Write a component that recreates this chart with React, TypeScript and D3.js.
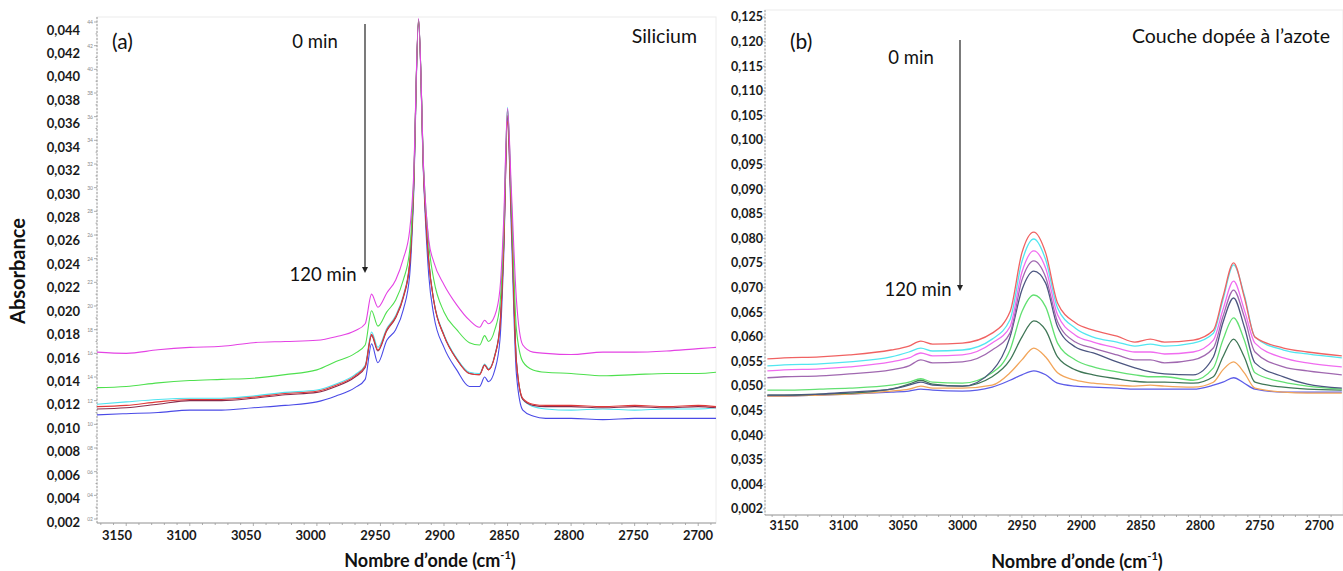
import React from 'react';
import * as d3 from 'd3';

const W = 1343;
const H = 571;
const FONT = "Lato, 'Open Sans', sans-serif";

// ---------- Panel (a) : Silicium ----------
const A_WAVENUMBERS = [3173, 3150, 3125, 3100, 3075, 3050, 3025, 3000, 2985, 2970, 2962, 2957, 2952, 2945, 2938, 2932, 2927, 2924, 2920, 2916, 2912, 2908, 2900, 2890, 2880, 2872, 2868, 2865, 2860, 2856, 2853, 2850, 2847, 2843, 2838, 2830, 2820, 2800, 2775, 2750, 2725, 2700, 2686];
const A_MAGENTA = [0.0161, 0.0160, 0.0163, 0.0165, 0.0166, 0.0169, 0.0170, 0.0171, 0.0174, 0.0179, 0.0185, 0.0210, 0.0199, 0.0211, 0.0222, 0.0240, 0.0264, 0.0307, 0.0443, 0.0315, 0.0256, 0.0237, 0.0218, 0.0201, 0.0188, 0.0182, 0.0188, 0.0185, 0.0192, 0.0214, 0.0273, 0.0367, 0.0298, 0.0205, 0.0167, 0.0161, 0.0160, 0.0159, 0.0161, 0.0161, 0.0162, 0.0164, 0.0165];
const A_GREEN = [0.0131, 0.0132, 0.0135, 0.0137, 0.0138, 0.0139, 0.0142, 0.0146, 0.0153, 0.0160, 0.0167, 0.0196, 0.0183, 0.0195, 0.0205, 0.0222, 0.0247, 0.0302, 0.0442, 0.0315, 0.0252, 0.0222, 0.0195, 0.0180, 0.0169, 0.0167, 0.0175, 0.0170, 0.0180, 0.0201, 0.0264, 0.0366, 0.0290, 0.0180, 0.0153, 0.0146, 0.0144, 0.0143, 0.0141, 0.0142, 0.0143, 0.0143, 0.0144];
const A_CYAN = [0.0117, 0.0119, 0.0121, 0.0122, 0.0122, 0.0124, 0.0127, 0.0129, 0.0134, 0.0142, 0.0150, 0.0178, 0.0165, 0.0181, 0.0192, 0.0209, 0.0237, 0.0298, 0.0442, 0.0313, 0.0239, 0.0205, 0.0176, 0.0156, 0.0144, 0.0143, 0.0151, 0.0147, 0.0159, 0.0184, 0.0256, 0.0368, 0.0281, 0.0154, 0.0121, 0.0115, 0.0113, 0.0112, 0.0113, 0.0112, 0.0113, 0.0113, 0.0114];
const A_RED = [0.0115, 0.0116, 0.0119, 0.0121, 0.0121, 0.0123, 0.0126, 0.0128, 0.0133, 0.0141, 0.0149, 0.0176, 0.0163, 0.0180, 0.0191, 0.0208, 0.0236, 0.0297, 0.0441, 0.0310, 0.0238, 0.0204, 0.0175, 0.0155, 0.0143, 0.0142, 0.0150, 0.0146, 0.0158, 0.0182, 0.0250, 0.0356, 0.0275, 0.0152, 0.0122, 0.0117, 0.0116, 0.0116, 0.0115, 0.0116, 0.0115, 0.0116, 0.0115];
const A_DARKRED = [0.0113, 0.0114, 0.0117, 0.0120, 0.0120, 0.0122, 0.0125, 0.0127, 0.0132, 0.0140, 0.0148, 0.0175, 0.0162, 0.0179, 0.0190, 0.0207, 0.0235, 0.0296, 0.0442, 0.0311, 0.0238, 0.0204, 0.0175, 0.0155, 0.0143, 0.0142, 0.0150, 0.0146, 0.0158, 0.0183, 0.0252, 0.0361, 0.0278, 0.0153, 0.0121, 0.0116, 0.0115, 0.0115, 0.0114, 0.0115, 0.0114, 0.0115, 0.0114];
const A_BLUE = [0.0108, 0.0109, 0.0110, 0.0112, 0.0112, 0.0114, 0.0116, 0.0119, 0.0124, 0.0131, 0.0138, 0.0168, 0.0152, 0.0171, 0.0180, 0.0197, 0.0226, 0.0290, 0.0440, 0.0307, 0.0226, 0.0192, 0.0165, 0.0146, 0.0132, 0.0132, 0.0140, 0.0136, 0.0146, 0.0171, 0.0243, 0.0359, 0.0264, 0.0142, 0.0112, 0.0107, 0.0105, 0.0105, 0.0104, 0.0105, 0.0105, 0.0105, 0.0105];
const A_SERIES = [
  { name: 'blue', color: '#4a4ae6', values: A_BLUE },
  { name: 'cyan', color: '#4fe3ef', values: A_CYAN },
  { name: 'darkred', color: '#8a2a4a', values: A_DARKRED },
  { name: 'red', color: '#e03a3a', values: A_RED },
  { name: 'green', color: '#4ee04e', values: A_GREEN },
  { name: 'magenta', color: '#e442e4', values: A_MAGENTA },
];
const A_Y_TICKS = [0.044, 0.042, 0.040, 0.038, 0.036, 0.034, 0.032, 0.030, 0.028, 0.026, 0.024, 0.022, 0.020, 0.018, 0.016, 0.014, 0.012, 0.010, 0.008, 0.006, 0.004, 0.002];
const A_Y_LABELS = ['0,044', '0,042', '0,040', '0,038', '0,036', '0,034', '0,032', '0,030', '0,028', '0,026', '0,024', '0,022', '0,020', '0,018', '0,016', '0,014', '0,012', '0,010', '0,008', '0,006', '0,004', '0,002'];
const A_Y_SMALL_LABELS = ['44', '42', '40', '38', '36', '34', '32', '30', '28', '26', '24', '22', '20', '18', '16', '14', '12', '10', '08', '06', '04', '02'];
const X_TICKS = [3150, 3100, 3050, 3000, 2950, 2900, 2850, 2800, 2750, 2700];
const X_LABELS = ['3150', '3100', '3050', '3000', '2950', '2900', '2850', '2800', '2750', '2700'];

// ---------- Panel (b) : Couche dopée à l'azote ----------
const B_WAVENUMBERS = [3164, 3150, 3120, 3095, 3060, 3045, 3035, 3025, 3000, 2975, 2960, 2950, 2940, 2930, 2920, 2905, 2890, 2870, 2855, 2842, 2830, 2806, 2789, 2781, 2772, 2763, 2754, 2730, 2710, 2681];
const B_RED = [0.0560, 0.0562, 0.0564, 0.0568, 0.0578, 0.0586, 0.0596, 0.0590, 0.0592, 0.0612, 0.0655, 0.0774, 0.0816, 0.0774, 0.0673, 0.0633, 0.0618, 0.0606, 0.0594, 0.0600, 0.0594, 0.0598, 0.0618, 0.0685, 0.0754, 0.0685, 0.0604, 0.0582, 0.0574, 0.0566];
const B_CYAN = [0.0546, 0.0548, 0.0550, 0.0554, 0.0564, 0.0574, 0.0582, 0.0576, 0.0578, 0.0600, 0.0639, 0.0756, 0.0802, 0.0760, 0.0663, 0.0622, 0.0604, 0.0594, 0.0586, 0.0590, 0.0586, 0.0592, 0.0612, 0.0679, 0.0750, 0.0689, 0.0604, 0.0578, 0.0570, 0.0562];
const B_MAGENTA = [0.0536, 0.0538, 0.0540, 0.0544, 0.0554, 0.0562, 0.0572, 0.0566, 0.0568, 0.0592, 0.0625, 0.0735, 0.0778, 0.0743, 0.0649, 0.0608, 0.0594, 0.0582, 0.0574, 0.0574, 0.0570, 0.0574, 0.0598, 0.0659, 0.0717, 0.0659, 0.0592, 0.0562, 0.0552, 0.0544];
const B_MAUVE = [0.0522, 0.0524, 0.0526, 0.0530, 0.0538, 0.0546, 0.0558, 0.0552, 0.0554, 0.0578, 0.0612, 0.0719, 0.0758, 0.0725, 0.0635, 0.0594, 0.0582, 0.0568, 0.0558, 0.0558, 0.0552, 0.0558, 0.0582, 0.0645, 0.0699, 0.0645, 0.0574, 0.0544, 0.0536, 0.0528];
const B_SLATE = [0.0487, 0.0487, 0.0489, 0.0493, 0.0499, 0.0507, 0.0513, 0.0507, 0.0505, 0.0536, 0.0604, 0.0699, 0.0737, 0.0713, 0.0625, 0.0584, 0.0572, 0.0554, 0.0542, 0.0534, 0.0530, 0.0528, 0.0564, 0.0633, 0.0683, 0.0625, 0.0552, 0.0524, 0.0509, 0.0501];
const B_GREEN = [0.0497, 0.0497, 0.0499, 0.0501, 0.0507, 0.0513, 0.0520, 0.0513, 0.0511, 0.0532, 0.0578, 0.0655, 0.0689, 0.0665, 0.0592, 0.0558, 0.0544, 0.0534, 0.0528, 0.0524, 0.0524, 0.0517, 0.0542, 0.0598, 0.0643, 0.0598, 0.0532, 0.0513, 0.0505, 0.0499];
const B_DARKGREEN = [0.0487, 0.0487, 0.0489, 0.0491, 0.0499, 0.0509, 0.0517, 0.0509, 0.0505, 0.0524, 0.0558, 0.0604, 0.0637, 0.0618, 0.0564, 0.0538, 0.0528, 0.0520, 0.0515, 0.0513, 0.0513, 0.0511, 0.0524, 0.0564, 0.0600, 0.0564, 0.0513, 0.0503, 0.0499, 0.0497];
const B_ORANGE = [0.0485, 0.0485, 0.0487, 0.0489, 0.0495, 0.0499, 0.0505, 0.0501, 0.0501, 0.0507, 0.0532, 0.0558, 0.0582, 0.0564, 0.0532, 0.0517, 0.0511, 0.0507, 0.0505, 0.0507, 0.0505, 0.0503, 0.0513, 0.0538, 0.0554, 0.0532, 0.0501, 0.0493, 0.0491, 0.0491];
const B_BLUE = [0.0485, 0.0485, 0.0487, 0.0489, 0.0493, 0.0495, 0.0499, 0.0497, 0.0495, 0.0503, 0.0517, 0.0528, 0.0536, 0.0528, 0.0511, 0.0505, 0.0503, 0.0501, 0.0499, 0.0499, 0.0499, 0.0499, 0.0507, 0.0513, 0.0522, 0.0511, 0.0499, 0.0493, 0.0493, 0.0493];
const B_SERIES = [
  { name: 'blue', color: '#5c5ce8', values: B_BLUE },
  { name: 'orange', color: '#f2a55a', values: B_ORANGE },
  { name: 'darkgreen', color: '#3f7656', values: B_DARKGREEN },
  { name: 'green', color: '#62e072', values: B_GREEN },
  { name: 'slate', color: '#4c5680', values: B_SLATE },
  { name: 'mauve', color: '#a068b0', values: B_MAUVE },
  { name: 'magenta', color: '#f06cf0', values: B_MAGENTA },
  { name: 'cyan', color: '#52e6f0', values: B_CYAN },
  { name: 'red', color: '#f06262', values: B_RED },
];
const B_Y_TICKS = [0.125, 0.120, 0.115, 0.110, 0.105, 0.100, 0.095, 0.090, 0.085, 0.080, 0.075, 0.070, 0.065, 0.060, 0.055, 0.050, 0.045, 0.040, 0.035, 0.030, 0.025];
const B_Y_LABELS = ['0,125', '0,120', '0,115', '0,110', '0,105', '0,100', '0,095', '0,090', '0,085', '0,080', '0,075', '0,070', '0,065', '0,060', '0,055', '0,050', '0,045', '0,040', '0,035', '0,004', '0,002'];

function XTitle({ x, y }: { x: number; y: number }) {
  return (
    <text x={x} y={y} textAnchor="middle" fontFamily={FONT} fontWeight={700} fontSize={18} fill="#111">
      Nombre d’onde (cm<tspan fontSize={11} dy={-8}>-1</tspan><tspan dy={8}>)</tspan>
    </text>
  );
}

function Arrow({ x, y1, y2 }: { x: number; y1: number; y2: number }) {
  return (
    <g>
      <line x1={x} x2={x} y1={y1} y2={y2 - 5} stroke="#222" strokeWidth={1.2} />
      <path d={`M${x - 3},${y2 - 6} L${x + 3},${y2 - 6} L${x},${y2} Z`} fill="#222" />
    </g>
  );
}

export default function App() {
  // Panel (a) scales
  const ax = d3.scaleLinear().domain([3173, 2686]).range([97, 716]);
  const ay = d3.scaleLinear().domain([0.044, 0.002]).range([22, 519]);
  const ayLabel = d3.scaleLinear().domain([0.044, 0.002]).range([30, 522]);
  const axLabel = d3.scaleLinear().domain([3150, 2700]).range([117, 698]);
  const aTop = 17, aBottom = 523, aLeft = 97, aRight = 716;

  // Panel (b) scales
  const bx = d3.scaleLinear().domain([3166, 2680]).range([765, 1343]);
  const by = d3.scaleLinear().domain([0.125, 0.035]).range([17, 463]);
  const byLabel = d3.scaleLinear().domain([0.125, 0.025]).range([17, 509]);
  const bTop = 10, bBottom = 515, bLeft = 765, bRight = 1343;

  const lineA = (vals: number[]) =>
    d3.line<number>().x((_, i) => ax(A_WAVENUMBERS[i])).y((v) => ay(v)).curve(d3.curveMonotoneX)(vals) || '';
  const lineB = (vals: number[]) =>
    d3.line<number>().x((_, i) => bx(B_WAVENUMBERS[i])).y((v) => by(v)).curve(d3.curveMonotoneX)(vals) || '';

  const aMinor = d3.range(2690, 3171, 10);
  const bMinor = d3.range(2690, 3161, 10);
  const aYMinor = d3.range(0.002, 0.0441, 0.001);

  return (
    <svg width={W} height={H} style={{ position: 'absolute', left: 0, top: 0, background: '#fff' }}>
      <rect x={0} y={0} width={W} height={H} fill="#fff" />
      {/* ---------- Panel (a) ---------- */}
      <defs>
        <clipPath id="clipA"><rect x={aLeft} y={aTop - 2} width={aRight - aLeft} height={aBottom - aTop + 2} /></clipPath>
        <clipPath id="clipB"><rect x={bLeft} y={bTop} width={bRight - bLeft} height={bBottom - bTop} /></clipPath>
      </defs>
      <rect x={aLeft} y={aTop} width={aRight - aLeft} height={aBottom - aTop} fill="none" stroke="#ececec" strokeWidth={1} />
      <line x1={aLeft} x2={aLeft} y1={aTop} y2={aBottom} stroke="#9a9a9a" strokeDasharray="2,1.5" />
      {aYMinor.map((v, i) => (
        <line key={'aym' + i} x1={aLeft - (i % 2 === 0 ? 3 : 1.5)} x2={aLeft} y1={ay(v)} y2={ay(v)} stroke="#9a9a9a" strokeWidth={0.8} />
      ))}
      {A_Y_TICKS.map((v, i) => (
        <text key={'ays' + i} x={aLeft - 4} y={ay(v) + 2} textAnchor="end" fontFamily={FONT} fontSize={5} fill="#8a8a8a">{A_Y_SMALL_LABELS[i]}</text>
      ))}
      <line x1={aLeft} x2={aRight} y1={aBottom} y2={aBottom} stroke="#9a9a9a" strokeWidth={1} />
      {aMinor.map((w, i) => (
        <line key={'axm' + i} x1={ax(w)} x2={ax(w)} y1={aBottom} y2={aBottom + (w % 50 === 0 ? 3 : 2)} stroke="#9a9a9a" strokeWidth={0.8} />
      ))}
      <g clipPath="url(#clipA)">
        {A_SERIES.map((s) => (
          <path key={s.name} d={lineA(s.values)} fill="none" stroke={s.color} strokeWidth={1.1} strokeLinejoin="round" />
        ))}
      </g>
      {A_Y_TICKS.map((v, i) => (
        <text key={'ayl' + i} x={80} y={ayLabel(v)} dy="0.35em" textAnchor="end" fontFamily={FONT} fontWeight={700} fontSize={13} fill="#1a1a1a">{A_Y_LABELS[i]}</text>
      ))}
      {X_TICKS.map((w, i) => (
        <text key={'axl' + i} x={axLabel(w)} y={535} dy="0.35em" textAnchor="middle" fontFamily={FONT} fontWeight={700} fontSize={13} fill="#1a1a1a">{X_LABELS[i]}</text>
      ))}
      <text x={18} y={271} transform="rotate(-90,18,271)" textAnchor="middle" dy="0.35em" fontFamily={FONT} fontWeight={700} fontSize={20} fill="#111">Absorbance</text>
      <XTitle x={430} y={567} />
      <text x={112} y={42} dy="0.35em" fontFamily={FONT} fontSize={21} fill="#111">(a)</text>
      <text x={315} y={42} dy="0.35em" textAnchor="middle" fontFamily={FONT} fontSize={18.5} fill="#111">0 min</text>
      <text x={323} y={275} dy="0.35em" textAnchor="middle" fontFamily={FONT} fontSize={18.5} fill="#111">120 min</text>
      <text x={697} y={36} dy="0.35em" textAnchor="end" fontFamily={FONT} fontSize={19.5} fill="#111">Silicium</text>
      <Arrow x={365} y1={24} y2={273} />

      {/* ---------- Panel (b) ---------- */}
      <rect x={bLeft} y={bTop} width={bRight - bLeft} height={bBottom - bTop} fill="none" stroke="#ececec" strokeWidth={1} />
      <line x1={bLeft} x2={bLeft} y1={bTop} y2={bBottom} stroke="#9a9a9a" strokeDasharray="2,1.5" />
      {B_Y_TICKS.map((v, i) => (
        <line key={'bym' + i} x1={bLeft - 2} x2={bLeft} y1={byLabel(v)} y2={byLabel(v)} stroke="#9a9a9a" strokeWidth={0.8} />
      ))}
      <line x1={bLeft} x2={bRight} y1={bBottom} y2={bBottom} stroke="#9a9a9a" strokeWidth={1} />
      {bMinor.map((w, i) => (
        <line key={'bxm' + i} x1={bx(w)} x2={bx(w)} y1={bBottom} y2={bBottom + (w % 50 === 0 ? 3 : 2)} stroke="#9a9a9a" strokeWidth={0.8} />
      ))}
      <g clipPath="url(#clipB)">
        {B_SERIES.map((s) => (
          <path key={s.name} d={lineB(s.values)} fill="none" stroke={s.color} strokeWidth={1.3} strokeLinejoin="round" />
        ))}
      </g>
      {B_Y_TICKS.map((v, i) => (
        <text key={'byl' + i} x={763} y={byLabel(v)} dy="0.35em" textAnchor="end" fontFamily={FONT} fontWeight={700} fontSize={12.5} fill="#1a1a1a">{B_Y_LABELS[i]}</text>
      ))}
      {X_TICKS.map((w, i) => (
        <text key={'bxl' + i} x={bx(w)} y={526} dy="0.35em" textAnchor="middle" fontFamily={FONT} fontWeight={700} fontSize={12.5} fill="#1a1a1a">{X_LABELS[i]}</text>
      ))}
      <XTitle x={1077} y={568} />
      <text x={790} y={42} dy="0.35em" fontFamily={FONT} fontSize={21} fill="#111">(b)</text>
      <text x={911} y={58} dy="0.35em" textAnchor="middle" fontFamily={FONT} fontSize={18.5} fill="#111">0 min</text>
      <text x={918} y={290} dy="0.35em" textAnchor="middle" fontFamily={FONT} fontSize={18.5} fill="#111">120 min</text>
      <text x={1330} y={36} dy="0.35em" textAnchor="end" fontFamily={FONT} fontSize={19.5} fill="#111">Couche dopée à l’azote</text>
      <Arrow x={960} y1={40} y2={291} />
    </svg>
  );
}
